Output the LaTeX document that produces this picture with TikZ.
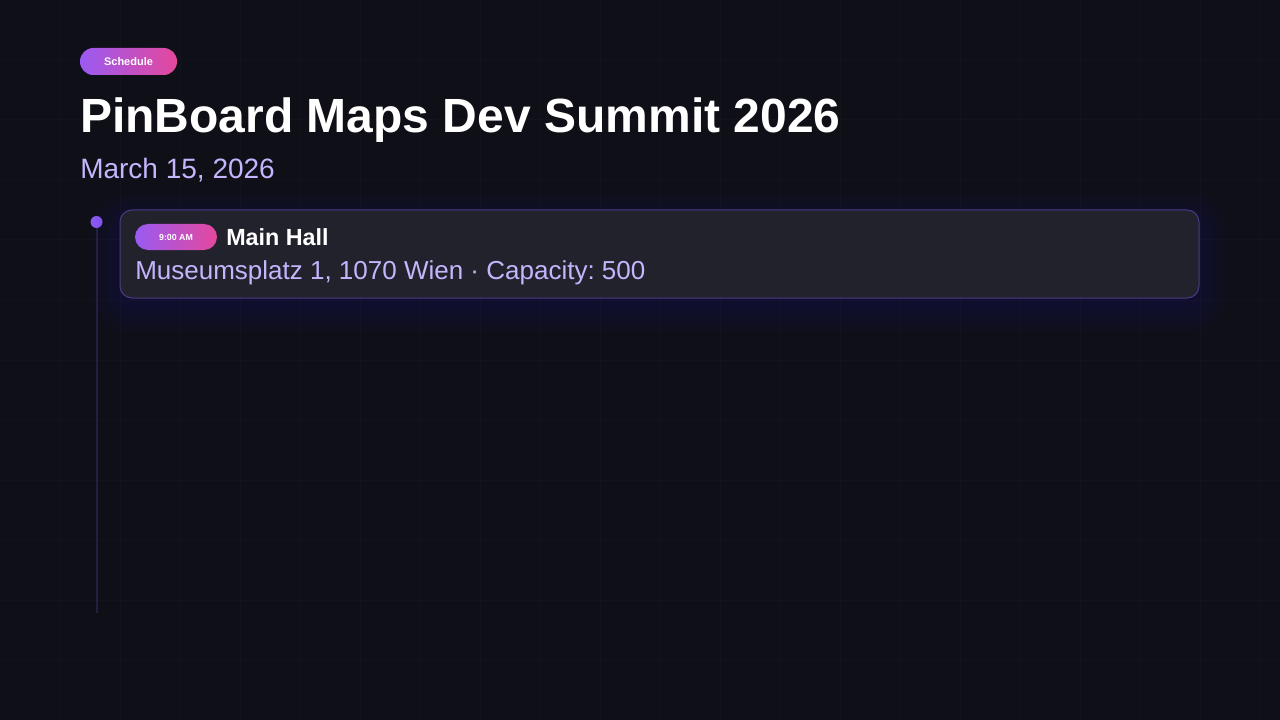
\documentclass[tikz,border=0pt]{standalone}
\usepackage{fontspec}
\setmainfont{Liberation Sans}
\frenchspacing
\definecolor{bg}{HTML}{0F0F17}
\definecolor{gridc}{HTML}{13131B}
\definecolor{cardfill}{HTML}{22222C}
\definecolor{cardborder}{HTML}{4A3A85}
\definecolor{lav}{HTML}{C4B5FD}
\definecolor{violet}{HTML}{8B5CF6}
\definecolor{glowc}{HTML}{6A4CD6}
\definecolor{gradL}{HTML}{9A5AF2}
\definecolor{gradR}{HTML}{E4489C}
\definecolor{lineC}{HTML}{251E3E}
\tikzset{
  pill/.style={rectangle, left color=gradL, right color=gradR, draw=none, inner sep=0pt, text=white, font=\bfseries},
  title/.style={anchor=base west, inner sep=0pt, text=white, font=\fontsize{36}{40}\selectfont\bfseries},
  subtitle/.style={anchor=base west, inner sep=0pt, text=lav, font=\fontsize{21}{24}\selectfont},
  cardtitle/.style={anchor=base west, inner sep=0pt, text=white, font=\fontsize{17.5}{20}\selectfont\bfseries},
  cardtext/.style={anchor=base west, inner sep=0pt, text=lav, font=\fontsize{19.5}{22}\selectfont},
  card/.style={rectangle, rounded corners=9pt, fill=cardfill, draw=cardborder, line width=0.75pt},
  tdot/.style={circle, fill=violet, inner sep=0pt, minimum size=9pt},
  tline/.style={draw=lineC, line width=1.5pt}
}
\begin{document}
\begin{tikzpicture}[x=0.75pt, y=-0.75pt]
% background
\fill[bg] (0,0) rectangle (1280,720);
\useasboundingbox (0,0) rectangle (1280,720);
% faint grid
\foreach \gx in {60,120,...,1260} \draw[gridc, line width=0.75pt] (\gx,0) -- (\gx,720);
\foreach \gy in {60,120,...,660} \draw[gridc, line width=0.75pt] (0,\gy) -- (1280,\gy);

% header
\node[pill, rounded corners=10pt, minimum width=72.75pt, minimum height=20.25pt, font=\fontsize{8.25}{9}\selectfont\bfseries] (tag) at (128.5,61.5) {Schedule};
\node[title] (ttl) at (80,133) {PinBoard Maps Dev Summit 2026};
\node[subtitle] (date) at (80,178.5) {March 15, 2026};

% timeline
\node[tdot] (dot) at (96.5,222) {};
\coordinate (lineend) at (96.5,613);
\draw[tline] (dot.south) -- (lineend);

% glow
\foreach \i in {1,...,22} {
  \pgfmathsetmacro\rr{(12+1.5*\i)*0.75}
  \fill[glowc, opacity=0.0075, rounded corners=\rr pt] (120-1.5*\i, 220-1.5*\i) rectangle (1199+1.5*\i, 306+1.5*\i);
}
% card
\node[card, minimum width=809.25pt, minimum height=66pt] (cardbox) at (659.5,254) {};
\node[pill, rounded corners=9.75pt, minimum width=61.5pt, minimum height=19.5pt, font=\fontsize{6.6}{7}\selectfont\bfseries] (time) at (176,237) {9:00 AM};
\node[cardtitle] (hall) at (226,245) {Main Hall};
\node[cardtext] (addr) at (135,279) {Museumsplatz 1, 1070 Wien · Capacity: 500};
\end{tikzpicture}
\end{document}
